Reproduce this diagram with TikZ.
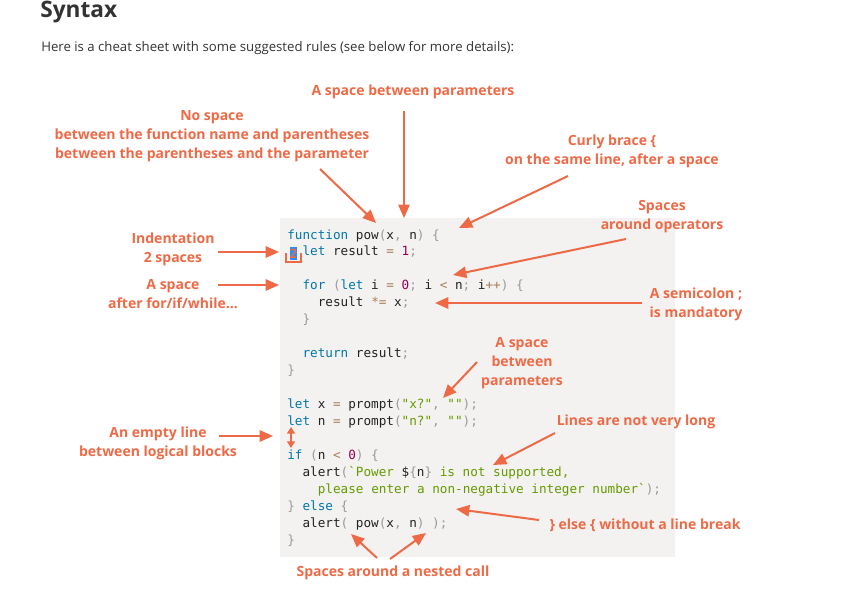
\documentclass[tikz,border=0pt]{standalone}
\usepackage{fontspec}
\setmainfont{Open Sans}
\newfontfamily\codefont{DejaVu Sans Mono}
\newfontfamily\annfont{Open Sans}
\usetikzlibrary{arrows.meta}
\definecolor{ann}{HTML}{EE6A46}
\definecolor{ckwc}{HTML}{0077AA}
\definecolor{cpuc}{HTML}{999999}
\definecolor{copc}{HTML}{A67F59}
\definecolor{cnumc}{HTML}{990055}
\definecolor{cstrc}{HTML}{669900}
\definecolor{ctxc}{HTML}{222222}
\definecolor{boxbg}{HTML}{F3F2F1}
\definecolor{hlblue}{HTML}{2F8CF4}
\definecolor{pagetext}{HTML}{333333}
\newcommand\ckw[1]{\textcolor{ckwc}{#1}}
\newcommand\cpu[1]{\textcolor{cpuc}{#1}}
\newcommand\cop[1]{\textcolor{copc}{#1}}
\newcommand\cnum[1]{\textcolor{cnumc}{#1}}
\newcommand\cstr[1]{\textcolor{cstrc}{#1}}
\tikzset{
  code/.style={anchor=base west, inner sep=0pt, text=ctxc, font=\codefont\fontsize{9.5}{12.7}\selectfont},
  annot/.style={inner sep=0pt, text=ann, align=center, font=\annfont\bfseries\fontsize{10.5}{14.25}\selectfont},
  arr/.style={draw=ann, line width=1.5pt, -{Triangle[length=10pt,width=8.5pt]}},
}
\begin{document}
\begin{tikzpicture}[x=0.75pt,y=-0.75pt]
\useasboundingbox (0,0) rectangle (855,610);
% header
\node[anchor=base west, inner sep=0pt, text=pagetext, font=\bfseries\fontsize{17}{20}\selectfont] (title) at (40,18) {Syntax};
\node[anchor=base west, inner sep=0pt, text=pagetext, font=\fontsize{9.9}{12}\selectfont] (intro) at (41,52) {Here is a cheat sheet with some suggested rules (see below for more details):};
% code box
\fill[boxbg] (280,218) rectangle (675,557);
\node[code] (c0) at (287,239) {\ckw{function} pow\cpu{(}x\cpu{,} n\cpu{)} \cpu{\{}};
\node[code] (c1) at (302.3,255.95) {\ckw{let} result \cop{=} \cnum{1}\cpu{;}};
\node[code] (c3) at (302.3,289.85) {\ckw{for} \cpu{(}\ckw{let} i \cop{=} \cnum{0}\cpu{;} i \cop{<} n\cpu{;} i\cop{++}\cpu{)} \cpu{\{}};
\node[code] (c4) at (317.6,306.8) {result \cop{*=} x\cpu{;}};
\node[code] (c5) at (302.3,323.75) {\cpu{\}}};
\node[code] (c7) at (302.3,357.65) {\ckw{return} result\cpu{;}};
\node[code] (c8) at (287,374.6) {\cpu{\}}};
\node[code] (c10) at (287,408.5) {\ckw{let} x \cop{=} prompt\cpu{(}\cstr{"x?"}\cpu{,} \cstr{""}\cpu{);}};
\node[code] (c11) at (287,425.45) {\ckw{let} n \cop{=} prompt\cpu{(}\cstr{"n?"}\cpu{,} \cstr{""}\cpu{);}};
\node[code] (c13) at (287,459.35) {\ckw{if} \cpu{(}n \cop{<} \cnum{0}\cpu{)} \cpu{\{}};
\node[code] (c14) at (302.3,476.3) {alert\cpu{(}\cstr{`Power }\$\cpu{\{}n\cpu{\}} \cstr{is not supported,}};
\node[code] (c15) at (317.6,493.25) {\cstr{please enter a non-negative integer number`}\cpu{);}};
\node[code] (c16) at (287,510.2) {\cpu{\}} \ckw{else} \cpu{\{}};
\node[code] (c17) at (302.3,527.15) {alert\cpu{(} pow\cpu{(}x\cpu{,} n\cpu{)} \cpu{);}};
\node[code] (c18) at (287,544.1) {\cpu{\}}};
% indentation marker
\node[fill=hlblue, inner sep=0pt, minimum width=5.6pt, minimum height=10pt, text=ann, font=\codefont\bfseries\fontsize{9.5}{12}\selectfont] (two) at (293.5,253.6) {2};
\draw[ann, line width=1.5pt] (286,253) -- (286,262) -- (300.7,262) -- (300.7,253);
% empty line marker
\coordinate (el1) at (291,427);
\coordinate (el2) at (291,448);
\draw[draw=ann, line width=1.2pt, {Triangle[length=5pt,width=6pt]}-{Triangle[length=5pt,width=6pt]}] (el1) -- (el2);
% annotations
\node[annot] (t1) at (413,92) {A space between parameters};
\node[annot] (t2) at (212,136.5) {No space\\between the function name and parentheses\\between the parentheses and the parameter};
\node[annot] (t3) at (612,151) {Curly brace \{\\on the same line, after a space};
\node[annot] (t4) at (662,217) {Spaces\\around operators};
\node[annot] (t5) at (173,249) {Indentation\\2 spaces};
\node[annot] (t6) at (173,294.5) {A space\\after for/if/while...};
\node[annot] (t7) at (696,304) {A semicolon ;\\is mandatory};
\node[annot] (t8) at (522,363.5) {A space\\between\\parameters};
\node[annot] (t9) at (636,421.5) {Lines are not very long};
\node[annot] (t10) at (158,443) {An empty line\\between logical blocks};
\node[annot] (t11) at (645,525.5) {\} else \{ without a line break};
\node[annot] (t12) at (393,572.5) {Spaces around a nested call};
% arrow ends
\coordinate (a1s) at (404,111);  \coordinate (a1e) at (404,218);
\coordinate (a2s) at (320,169);  \coordinate (a2e) at (376,223);
\coordinate (a3s) at (568,176);  \coordinate (a3e) at (459,228);
\coordinate (a4s) at (626,239);  \coordinate (a4e) at (453,275);
\coordinate (a5s) at (218,252);  \coordinate (a5e) at (279,252);
\coordinate (a6s) at (218,285);  \coordinate (a6e) at (279,285);
\coordinate (a7s) at (642,303);  \coordinate (a7e) at (435,303);
\coordinate (a8s) at (477,362);  \coordinate (a8e) at (443,398);
\coordinate (a9s) at (555,433);  \coordinate (a9e) at (493,465);
\coordinate (a10s) at (219,436); \coordinate (a10e) at (273,436);
\coordinate (a11s) at (539,520); \coordinate (a11e) at (456,509);
\coordinate (a12s) at (377,558); \coordinate (a12e) at (351,534);
\coordinate (a13s) at (390,559); \coordinate (a13e) at (426,533);
\draw[arr] (a1s) -- (a1e);
\draw[arr] (a2s) -- (a2e);
\draw[arr] (a3s) -- (a3e);
\draw[arr] (a4s) -- (a4e);
\draw[arr] (a5s) -- (a5e);
\draw[arr] (a6s) -- (a6e);
\draw[arr] (a7s) -- (a7e);
\draw[arr] (a8s) -- (a8e);
\draw[arr] (a9s) -- (a9e);
\draw[arr] (a10s) -- (a10e);
\draw[arr] (a11s) -- (a11e);
\draw[arr] (a12s) -- (a12e);
\draw[arr] (a13s) -- (a13e);
\end{tikzpicture}
\end{document}
